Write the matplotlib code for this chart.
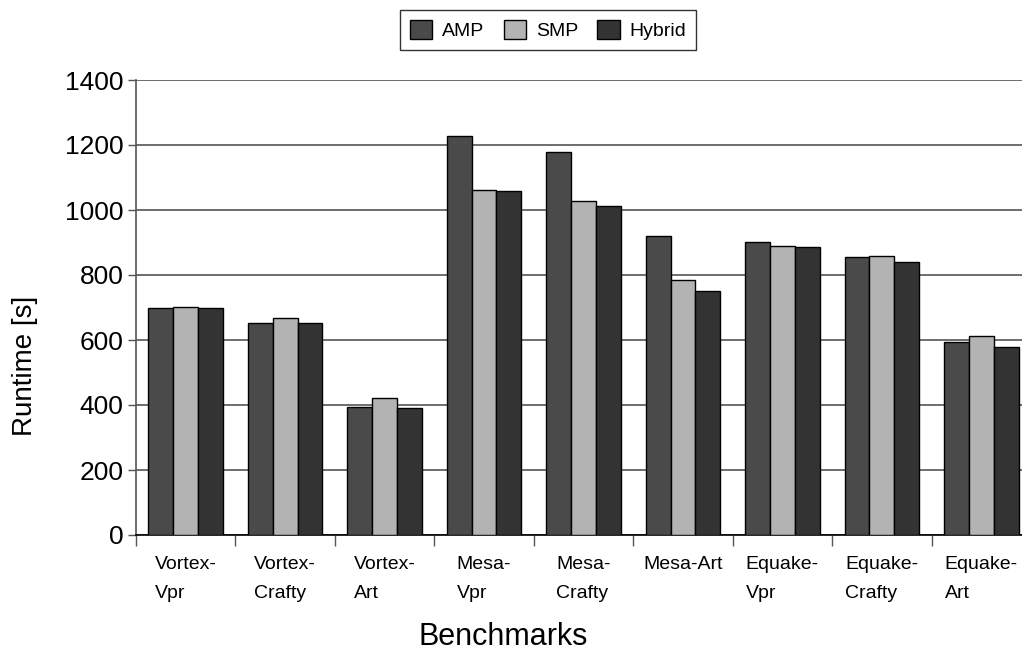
import numpy as np
import matplotlib
matplotlib.use("Agg")
import matplotlib.pyplot as plt

benchmarks = ["Vortex-\nVpr", "Vortex-\nCrafty", "Vortex-\nArt", "Mesa-\nVpr", "Mesa-\nCrafty",
              "Mesa-Art", "Equake-\nVpr", "Equake-\nCrafty", "Equake-\nArt"]
series = ["AMP", "SMP", "Hybrid"]
amp = [700, 651, 393, 1227, 1180, 920, 901, 854, 595]
smp = [703, 668, 423, 1061, 1028, 784, 890, 858, 612]
hybrid = [698, 651, 391, 1057, 1011, 751, 887, 840, 579]
colors = ["#4a4a4a", "#b3b3b3", "#333333"]

plt.rcParams.update({"font.family": ["Liberation Sans", "DejaVu Sans"]})

fig = plt.figure(figsize=(10.22, 6.53), dpi=100)
ax = fig.add_axes([136 / 1022, 1 - 535 / 653, 895 / 1022, 455 / 653])

x = np.arange(len(benchmarks))
w = 0.25
for i, (name, vals) in enumerate(zip(series, [amp, smp, hybrid])):
    ax.bar(x + (i - 1) * w, vals, width=w, color=colors[i], edgecolor="black",
           linewidth=1.0, label=name, zorder=3)

ax.set_xlim(-0.5, len(benchmarks) - 0.5)
ax.set_ylim(0, 1400)
ax.set_yticks(range(0, 1401, 200))
ax.yaxis.grid(True, color="#555555", linewidth=1.2, zorder=0)
ax.tick_params(axis="y", labelsize=19, length=6, width=1, color="#555555", pad=3)

# category boundaries carry the ticks, labels sit at the centres
ax.set_xticks(np.arange(len(benchmarks) + 1) - 0.5)
ax.set_xticklabels([])
ax.set_xticks(x, minor=True)
ax.set_xticklabels(benchmarks, minor=True, fontsize=14, multialignment="left", linespacing=1.95)
ax.tick_params(axis="x", which="major", length=8, width=1, color="#555555")
ax.tick_params(axis="x", which="minor", length=0, pad=15)

for s in ["top", "right"]:
    ax.spines[s].set_visible(False)
ax.spines["left"].set_color("#555555")
ax.spines["left"].set_linewidth(1.2)
ax.spines["bottom"].set_color("black")
ax.spines["bottom"].set_linewidth(1.2)

fig.text(25 / 1022, 1 - 366 / 653, "Runtime [s]", fontsize=20, rotation=90,
         ha="center", va="center")
fig.text(503 / 1022, 1 - 637 / 653, "Benchmarks", fontsize=22, ha="center", va="center")

leg = fig.legend(loc="center", bbox_to_anchor=(548 / 1022, 1 - 30 / 653), ncol=3,
                 fontsize=14, frameon=True, fancybox=False, edgecolor="black",
                 handlelength=1.15, handleheight=1.15, columnspacing=1.0, handletextpad=0.5,
                 borderpad=0.5)
leg.get_frame().set_linewidth(1.0)

fig.savefig("out.png", dpi=100)
